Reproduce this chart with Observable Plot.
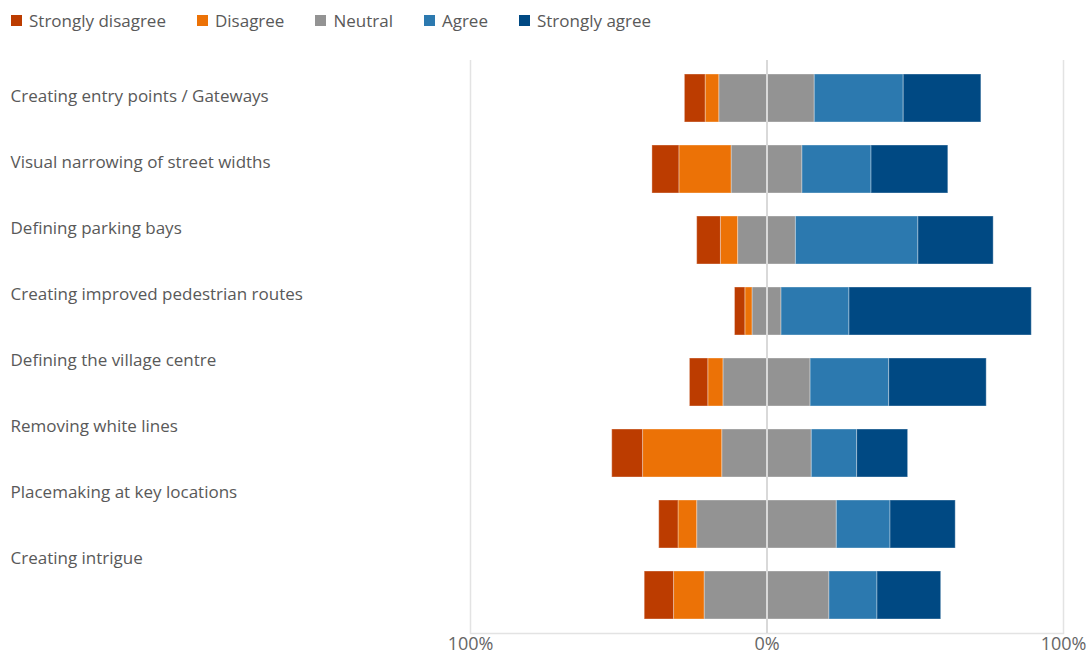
<!DOCTYPE html>
<html><head><meta charset="utf-8">
<script src="https://cdn.jsdelivr.net/npm/d3@7"></script>
<script src="https://cdn.jsdelivr.net/npm/@observablehq/plot@0.6"></script>
<style>
body{margin:0;background:#fff;font-family:"Open Sans",sans-serif;}
#legend{height:40px;display:flex;align-items:center;padding-left:11px;font-size:17px;color:#595959;box-sizing:border-box;}
.item{display:flex;align-items:center;margin-right:31px;white-space:nowrap;}
.sw{width:11px;height:11px;margin-right:7px;}
#wrap{position:relative;width:1090px;height:615px;}
#wrap svg{position:absolute;top:0;left:0;overflow:visible;}
</style></head><body>
<div id="legend"></div>
<div id="wrap"></div>
<script>
const categories = [
  "Creating entry points / Gateways",
  "Visual narrowing of street widths",
  "Defining parking bays",
  "Creating improved pedestrian routes",
  "Defining the village centre",
  "Removing white lines",
  "Placemaking at key locations",
  "Creating intrigue"
];
const responses = ["Strongly disagree","Disagree","Neutral","Agree","Strongly agree"];
const colors = ["#bc3c00","#ec7206","#939393","#2c79af","#004983"];
const stronglyDisagree = [7.0, 9.1, 8.0, 3.5, 6.2, 10.4, 6.5, 9.9];
const disagree         = [4.6, 17.6, 5.8, 2.4, 5.1, 26.7, 6.3, 10.3];
const neutral          = [32.2, 23.9, 19.5, 9.8, 29.4, 30.2, 47.1, 42.1];
const agree            = [30.0, 23.3, 41.3, 22.9, 26.5, 15.3, 18.1, 16.2];
const stronglyAgree    = [26.2, 25.9, 25.4, 61.5, 32.9, 17.2, 22.0, 21.5];
const xTicks = [-100, 0, 100];

// rows: left side (negative) stacks outward from 0, right side positive
const rows = [];
categories.forEach((cat, i) => {
  rows.push({cat, resp: "Neutral", value: -neutral[i] / 2});
  rows.push({cat, resp: "Disagree", value: -disagree[i]});
  rows.push({cat, resp: "Strongly disagree", value: -stronglyDisagree[i]});
  rows.push({cat, resp: "Neutral", value: neutral[i] / 2});
  rows.push({cat, resp: "Agree", value: agree[i]});
  rows.push({cat, resp: "Strongly agree", value: stronglyAgree[i]});
});

// legend
const legend = document.getElementById("legend");
responses.forEach((r, i) => {
  const it = document.createElement("div");
  it.className = "item";
  const sw = document.createElement("span");
  sw.className = "sw";
  sw.style.background = colors[i];
  const t = document.createElement("span");
  t.textContent = r;
  it.appendChild(sw); it.appendChild(t);
  legend.appendChild(it);
});

const bars = Plot.plot({
  width: 1090, height: 615,
  marginLeft: 470, marginRight: 27, marginTop: 20, marginBottom: 22,
  style: {fontFamily: "'Open Sans', sans-serif", fontSize: "18px", color: "#666", background: "transparent"},
  x: {domain: [-100, 100], label: null},
  y: {domain: categories, axis: null, label: null, paddingInner: 0.33, paddingOuter: 0.17},
  color: {domain: responses, range: colors},
  marks: [
    Plot.ruleX([-100, 100], {stroke: "#e3e3e3", strokeWidth: 1.5}),
    Plot.frame({anchor: "bottom", stroke: "#e3e3e3", strokeWidth: 1.5}),
    Plot.barX(rows, Plot.stackX({x: "value", y: "cat", fill: "resp", stroke: "white", strokeOpacity: 0.35, strokeWidth: 1})),
    Plot.ruleX([0], {stroke: "#d9d9d9", strokeWidth: 2}),
    Plot.axisX({ticks: xTicks, tickFormat: d => Math.abs(d) + "%", tickSize: 0, tickPadding: 4, fontSize: 18, fill: "#666", label: null})
  ]
});

const labels = Plot.plot({
  width: 470, height: 615,
  marginLeft: 0, marginRight: 0, marginTop: 0, marginBottom: 0,
  style: {fontFamily: "'Open Sans', sans-serif", fontSize: "17px", color: "#595959", background: "transparent"},
  y: {type: "point", domain: categories, range: [56, 518], padding: 0, axis: null},
  marks: [
    Plot.text(categories, {y: d => d, frameAnchor: "left", dx: 10, textAnchor: "start", fontSize: 17, fill: "#595959"})
  ]
});

const wrap = document.getElementById("wrap");
wrap.appendChild(bars);
wrap.appendChild(labels);
</script>
</body></html>
